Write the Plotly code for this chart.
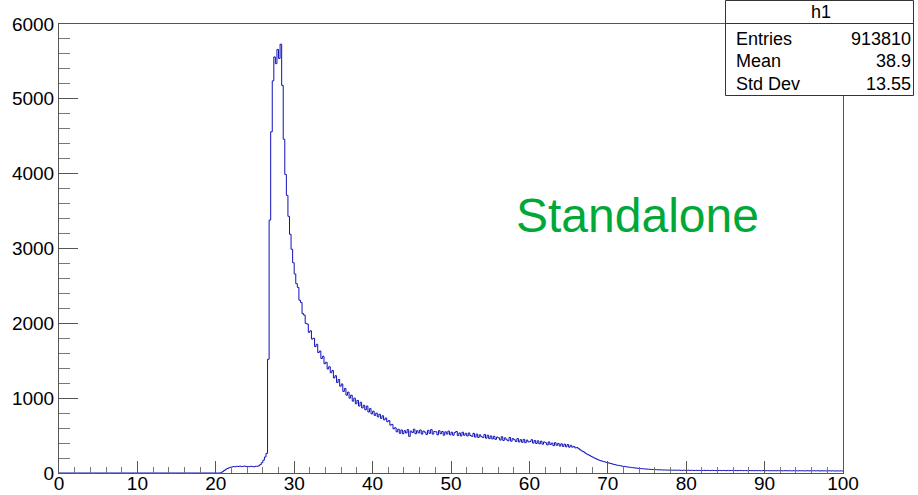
import numpy as np
import plotly.graph_objects as go

# ---------------- data ----------------
bin_start = 20.0
bin_width = 0.2
counts = [
    0, 0, 0, 4, 18, 34, 49, 60, 69, 76,
    81, 86, 84, 90, 87, 92, 85, 89, 93, 86,
    88, 84, 91, 86, 83, 89, 90, 96, 112, 138,
    172, 214, 262, 1520, 3380, 4560, 5240, 5560, 5470, 5660,
    5540, 5730, 5180, 4460, 3990, 3710, 3430, 3190, 2990, 2810,
    2660, 2530, 2480, 2310, 2280, 2130, 2110, 2000, 1990, 1880,
    1900, 1790, 1800, 1690, 1720, 1610, 1630, 1530, 1560, 1460,
    1480, 1390, 1420, 1340, 1370, 1270, 1300, 1210, 1250, 1160,
    1190, 1090, 1130, 1040, 1080, 1000, 1040, 960, 1000, 925,
    970, 895, 945, 870, 905, 845, 895, 815, 860, 790,
    825, 770, 800, 750, 785, 730, 765, 710, 735, 685,
    700, 640, 650, 590, 605, 550, 585, 530, 575, 525,
    565, 535, 580, 490, 560, 540, 585, 525, 565, 535,
    575, 520, 560, 545, 515, 570, 530, 580, 520, 555,
    550, 510, 565, 525, 555, 505, 550, 520, 560, 510,
    545, 505, 540, 555, 500, 535, 495, 545, 505, 530,
    495, 535, 500, 490, 530, 480, 520, 475, 510, 485,
    475, 515, 465, 505, 460, 495, 455, 490, 450, 480,
    470, 440, 485, 435, 470, 445, 430, 475, 425, 460,
    445, 420, 460, 415, 445, 410, 450, 405, 440, 415,
    420, 445, 400, 435, 395, 430, 390, 425, 385, 415,
    405, 375, 415, 380, 400, 365, 405, 370, 395, 360,
    390, 355, 385, 350, 380, 345, 370, 345, 355, 335,
    340, 325, 310, 295, 285, 270, 255, 245, 235, 222,
    212, 200, 192, 180, 172, 165, 158, 152, 147, 140,
    136, 128, 124, 117, 113, 106, 103, 98, 95, 90,
    88, 84, 81, 78, 76, 72, 70, 67, 65, 62,
    60, 58, 57, 54, 53, 51, 50, 48, 47, 46,
    45, 44, 42, 43, 41, 40, 41, 39, 38, 39,
    38, 37, 39, 36, 37, 38, 36, 35, 37, 36,
    35, 37, 34, 36, 35, 33, 36, 34, 35, 33,
    34, 36, 33, 35, 34, 32, 35, 33, 34, 32,
    33, 35, 32, 34, 33, 31, 34, 32, 33, 35,
    32, 34, 31, 33, 32, 34, 31, 33, 32, 30,
    33, 31, 32, 30, 33, 31, 32, 30, 31, 33,
    30, 32, 31, 29, 32, 30, 31, 29, 32, 30,
    31, 29, 30, 32, 29, 31, 30, 28, 31, 29,
    30, 28, 31, 29, 30, 28, 29, 31, 28, 30,
    29, 31, 28, 30, 29, 27, 30, 28, 29, 27,
    28, 30, 27, 29, 28, 26, 29, 27, 28, 27,
]
x_range = [0, 100]
y_range = [0, 6000]

stats_title = "h1"
stats_labels = ["Entries", "Mean", "Std Dev"]
stats_values = ["913810", "38.9", "13.55"]
label_text = "Standalone"

# ---------------- geometry helpers ----------------
W, H = 918, 495
L, R, T, B = 59, 843, 24, 473  # plot area in pixels


def px(xp):
    return (xp - L) / (R - L)


def py(yp):
    return (B - yp) / (B - T)


edges = bin_start + bin_width * np.arange(len(counts) + 1)
xs = np.concatenate([[x_range[0]], edges])
ys = np.concatenate([[0.0], np.array(counts, dtype=float), [counts[-1]]])

fig = go.Figure()
fig.add_trace(go.Scatter(
    x=xs, y=ys, mode="lines", line=dict(color="#1010b8", width=1, shape="hv"),
    hoverinfo="skip", showlegend=False,
))

axis_common = dict(
    showline=True, linecolor="#555555", linewidth=1, mirror=True,
    ticks="inside", tickcolor="#555555", showgrid=False, zeroline=False,
    automargin=False,
    tickfont=dict(size=19, color="black", family="Liberation Sans"),
)

fig.update_xaxes(range=x_range, tick0=0, dtick=10, ticklen=12,
                 ticklabelstandoff=-7,
                 minor=dict(ticks="inside", ticklen=6, dtick=2, tickcolor="#777777"),
                 **axis_common)
fig.update_yaxes(range=y_range, tick0=0, dtick=1000, ticklen=19,
                 minor=dict(ticks="inside", ticklen=11, dtick=200, tickcolor="#777777"),
                 **axis_common)

shapes = [
    dict(type="rect", xref="paper", yref="paper",
         x0=px(725.5), x1=px(913.5), y0=py(95.5), y1=py(0.5),
         line=dict(color="#333333", width=1), fillcolor="white", layer="above"),
    dict(type="line", xref="paper", yref="paper",
         x0=px(725.5), x1=px(913.5), y0=py(23.5), y1=py(23.5),
         line=dict(color="#333333", width=1), layer="above"),
]

sfont = dict(size=18, color="black", family="Liberation Sans")
annotations = [
    dict(text=stats_title, xref="paper", yref="paper", x=px(821), y=py(12),
         xanchor="center", yanchor="middle", showarrow=False, font=sfont),
]
row_y = [39, 61, 84]
for lab, val, yy in zip(stats_labels, stats_values, row_y):
    annotations.append(dict(text=lab, xref="paper", yref="paper", x=px(734), y=py(yy),
                            xanchor="left", yanchor="middle", showarrow=False, font=sfont))
    annotations.append(dict(text=val, xref="paper", yref="paper", x=px(913), y=py(yy),
                            xanchor="right", yanchor="middle", showarrow=False, font=sfont))

annotations.append(dict(text=label_text, xref="paper", yref="paper", x=px(637), y=py(215),
                        xanchor="center", yanchor="middle", showarrow=False,
                        font=dict(size=48, color="#00a838", family="Liberation Sans")))

fig.update_layout(
    width=W, height=H,
    margin=dict(l=L, r=W - R, t=T, b=H - B),
    plot_bgcolor="white", paper_bgcolor="white",
    font=dict(family="Liberation Sans", size=18, color="black"),
    shapes=shapes, annotations=annotations, showlegend=False,
)

fig.write_html("out.html")
